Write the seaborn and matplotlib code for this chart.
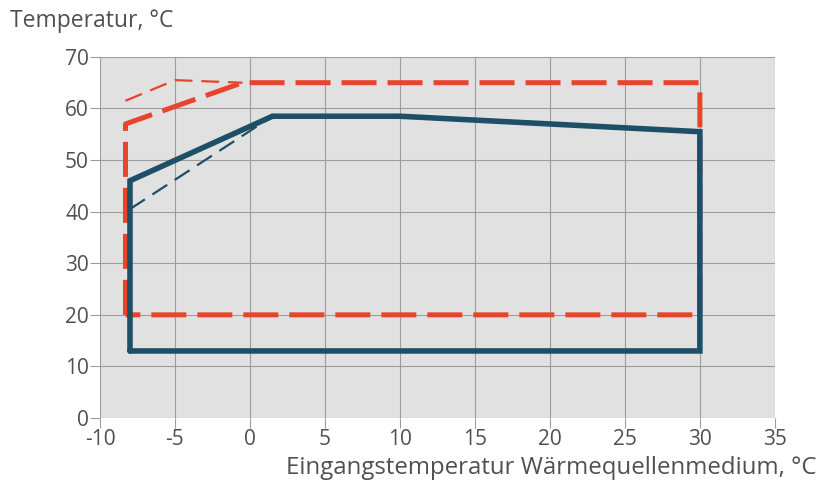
import matplotlib
matplotlib.use("Agg")
import matplotlib.pyplot as plt
import seaborn as sns
import pandas as pd

# Operating envelope outlines (source inlet temperature, flow temperature)
blue_x = [-8, -8, 1.5, 10, 30, 30, -8]
blue_y = [13, 46, 58.5, 58.5, 55.5, 13, 13]

blue_thin_x = [-8, 1.5]
blue_thin_y = [40.5, 58.5]

red_x = [-8.3, -8.3, -0.5, 30, 30, -8.3]
red_y = [20, 57, 65, 65, 20, 20]

red_thin_x = [-8.3, -5, -0.5]
red_thin_y = [61.5, 65.5, 65]

x_ticks = [-10, -5, 0, 5, 10, 15, 20, 25, 30, 35]
y_ticks = [0, 10, 20, 30, 40, 50, 60, 70]

sns.set_theme(style="whitegrid")
plt.rcParams["font.family"] = ["Open Sans", "DejaVu Sans"]

BLUE = "#1d4f66"
RED = "#e8432b"
TEXT = "#505050"

fig = plt.figure(figsize=(8.23, 4.88), dpi=100)
ax = fig.add_axes([0.1215, 0.1434, 0.82, 0.74])
ax.set_facecolor("#e1e1e1")


def path(xs, ys, **kw):
    df = pd.DataFrame({"x": xs, "y": ys})
    sns.lineplot(data=df, x="x", y="y", sort=False, estimator=None, ax=ax, **kw)


path(red_thin_x, red_thin_y, color=RED, lw=1.6, dashes=(8, 4))
path(red_x, red_y, color=RED, lw=3.6, dashes=(7, 2.2), solid_capstyle="butt")
path(blue_thin_x, blue_thin_y, color=BLUE, lw=1.6, dashes=(8, 4))
path(blue_x, blue_y, color=BLUE, lw=4.0, solid_joinstyle="miter")

ax.set_xlim(-10, 35)
ax.set_ylim(0, 70)
ax.set_xticks(x_ticks)
ax.set_yticks(y_ticks)
ax.set_xticklabels([str(v) for v in x_ticks])
ax.grid(True, color="#9c9c9c", lw=0.8)
for s in ax.spines.values():
    s.set_visible(False)
ax.tick_params(axis="both", colors="#9c9c9c", length=7, width=0.8,
               labelcolor=TEXT, labelsize=15, pad=1, direction="out")
ax.tick_params(axis="both", which="both", bottom=True, left=True)
ax.set_xlabel("")
ax.set_ylabel("")

fig.text(0.012, 0.957, "Temperatur, °C", fontsize=16.5, color=TEXT,
         ha="left", va="center")
fig.text(0.992, 0.041, "Eingangstemperatur Wärmequellenmedium, °C",
         fontsize=17.3, color=TEXT, ha="right", va="center")

fig.savefig("out.png", dpi=100)
